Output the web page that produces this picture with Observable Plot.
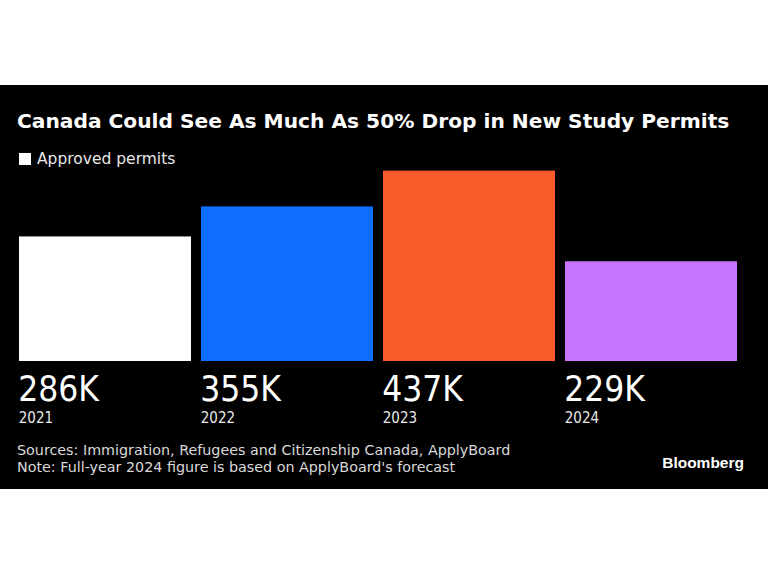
<!DOCTYPE html>
<html>
<head>
<meta charset="utf-8">
<script src="https://cdn.jsdelivr.net/npm/d3@7"></script>
<script src="https://cdn.jsdelivr.net/npm/@observablehq/plot@0.6"></script>
<style>
  html, body { margin: 0; padding: 0; background: #fff; width: 768px; height: 576px; overflow: hidden; }
  #panel { position: absolute; left: 0; top: 85px; width: 768px; height: 404px; background: #000; color: #fff; }
  .t { position: absolute; white-space: nowrap; }
  #title { left: 17px; top: 25.7px; font: bold 20.2px/20.2px "DejaVu Sans", sans-serif; }
  #legend { left: 19px; top: 65.5px; font: 15.5px/16px "DejaVu Sans", sans-serif; color: #e8e8e8; }
  #legend .sw { display: inline-block; width: 12px; height: 12px; background: #fff; margin-right: 6px; vertical-align: -1px; }
  #chart { position: absolute; left: 0; top: 80px; }
  #foot { left: 17px; top: 357px; font: 14.3px/16.5px "DejaVu Sans", sans-serif; color: #d9d9d9; }
  #logo { right: 24px; top: 370px; font: bold 15.5px/15.5px "Liberation Sans", Arial, sans-serif; color: #fff; }
</style>
</head>
<body>
<div id="panel">
  <div id="title" class="t">Canada Could See As Much As 50% Drop in New Study Permits</div>
  <div id="legend" class="t"><span class="sw"></span>Approved permits</div>
  <div id="chart"></div>
  <div id="foot" class="t">Sources: Immigration, Refugees and Citizenship Canada, ApplyBoard<br>Note: Full-year 2024 figure is based on ApplyBoard's forecast</div>
  <div id="logo" class="t">Bloomberg</div>
</div>
<script>
const years = ["2021", "2022", "2023", "2024"];
const permits = [286, 355, 437, 229];
const valueLabels = ["286K", "355K", "437K", "229K"];
const barColors = ["#ffffff", "#0e6eff", "#fb5a2a", "#c575ff"];

const data = years.map((y, i) => ({year: y, value: permits[i], label: valueLabels[i]}));

const W = 768, H = 260, ML = 18, MR = 30;
const bandwidth = (W - ML - MR) / (years.length - 0.055) * (1 - 0.055);

const chart = Plot.plot({
  width: W,
  height: H,
  marginLeft: ML,
  marginRight: MR,
  marginTop: 0,
  marginBottom: 64,
  style: {background: "transparent", color: "#fff", overflow: "visible"},
  x: {domain: years, paddingInner: 0.055, paddingOuter: 0, axis: null},
  y: {domain: [0, 450], axis: null},
  color: {type: "ordinal", domain: years, range: barColors},
  marks: [
    Plot.barY(data, {x: "year", y: "value", fill: "year"}),
    Plot.text(data, {x: "year", y: () => 0, text: "label", textAnchor: "start", lineAnchor: "bottom",
      dx: -bandwidth / 2 - 1, dy: 39, fill: "#fff", fontSize: 35,
      fontFamily: "'DejaVu Sans Condensed', 'DejaVu Sans', sans-serif"}),
    Plot.text(data, {x: "year", y: () => 0, text: "year", textAnchor: "start", lineAnchor: "bottom",
      dx: -bandwidth / 2 - 0.5, dy: 61, fill: "#e8e8e8", fontSize: 15,
      fontFamily: "'DejaVu Sans Condensed', 'DejaVu Sans', sans-serif"})
  ]
});
document.getElementById("chart").appendChild(chart);
</script>
</body>
</html>
